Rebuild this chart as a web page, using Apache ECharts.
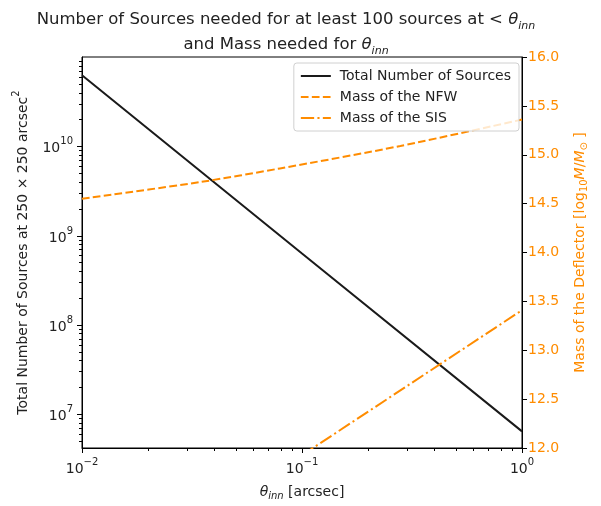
<!DOCTYPE html>
<html>
<head>
<meta charset="utf-8">
<script src="https://cdn.jsdelivr.net/npm/echarts@6/dist/echarts.min.js"></script>
<style>
  html, body { margin: 0; padding: 0; background: #fff; }
  #chart { width: 601px; height: 506px; }
</style>
</head>
<body>
<div id="chart"></div>
<script>
// Inner angle theta_inn [arcsec] and the quantities plotted against it
const thetaSources = [0.01, 0.1, 1];
const totalSources = [6.25e10, 6.3e8, 6.4e6];

const thetaNFW = [0.01, 0.0343, 0.0794, 0.28, 1];
const massNFW = [14.55, 14.72, 14.86, 15.09, 15.36];

const thetaSIS = [0.1, 1];
const massSIS = [11.926, 13.41];

// Axis ticks
const xMajorTicks = [0.01, 0.1, 1];
const xMinorTicks = [0.02, 0.03, 0.04, 0.05, 0.06, 0.07, 0.08, 0.09,
                     0.2, 0.3, 0.4, 0.5, 0.6, 0.7, 0.8, 0.9];
const yMajorTicks = [1e7, 1e8, 1e9, 1e10];
const yMinorTicks = [5e6, 6e6, 7e6, 8e6, 9e6,
                     2e7, 3e7, 4e7, 5e7, 6e7, 7e7, 8e7, 9e7,
                     2e8, 3e8, 4e8, 5e8, 6e8, 7e8, 8e8, 9e8,
                     2e9, 3e9, 4e9, 5e9, 6e9, 7e9, 8e9, 9e9,
                     2e10, 3e10, 4e10, 5e10, 6e10, 7e10, 8e10, 9e10];
const xTickExponents = [-2, -1, 0];
const yTickExponents = [7, 8, 9, 10];

const X_MIN = 0.01, X_MAX = 1;
const Y_MIN = 4.17e6, Y_MAX = 1e11;

const FONT = 'DejaVu Sans';
const TEXT = '#222';
const ORANGE = '#ff8c00';

const chart = echarts.init(document.getElementById('chart'), null, { renderer: 'canvas' });

function powerLabel(exp) {
  const e = exp < 0 ? '\u2212' + Math.abs(exp) : String(exp);
  return '{b|10}{sup|' + e + '}';
}

const powRich = {
  b: { fontFamily: FONT, fontSize: 14, color: TEXT, lineHeight: 19, verticalAlign: 'bottom' },
  sup: { fontFamily: FONT, fontSize: 10, color: TEXT, lineHeight: 12, verticalAlign: 'top' }
};

// Short tick marks drawn through the axis scales
function tickSeries(values, orientation, len) {
  const data = values.map(v => orientation === 'x' ? [v, Y_MIN] : [X_MIN, v]);
  return {
    type: 'custom',
    xAxisIndex: 0,
    yAxisIndex: 0,
    silent: true,
    clip: false,
    z: 5,
    data: data,
    renderItem: function (params, api) {
      const cs = params.coordSys;
      const p = api.coord([api.value(0), api.value(1)]);
      if (orientation === 'x') {
        const x = Math.round(p[0]) + 0.5;
        const y0 = cs.y + cs.height;
        return { type: 'line', shape: { x1: x, y1: y0, x2: x, y2: y0 + len },
                 style: { stroke: '#000', lineWidth: 1 } };
      }
      const y = Math.round(p[1]) + 0.5;
      const x0 = cs.x;
      return { type: 'line', shape: { x1: x0, y1: y, x2: x0 - len, y2: y },
               style: { stroke: '#000', lineWidth: 1 } };
    }
  };
}

const option = {
  backgroundColor: '#fff',
  animation: false,
  title: {
    text: '{t|Number of Sources needed for at least 100 sources at < }{it|θ}{sub|inn}\n{t|and Mass needed for }{it|θ}{sub|inn}',
    left: 281,
    top: 2,
    textAlign: 'center',
    textStyle: {
      fontWeight: 'normal',
      rich: {
        t: { fontFamily: FONT, fontSize: 16.5, fontWeight: 'normal', color: TEXT, lineHeight: 25, verticalAlign: 'middle' },
        it: { fontFamily: FONT, fontSize: 16.5, fontWeight: 'normal', fontStyle: 'italic', color: TEXT, lineHeight: 25, verticalAlign: 'middle' },
        sub: { fontFamily: FONT, fontSize: 11, fontWeight: 'normal', fontStyle: 'italic', color: TEXT, lineHeight: 12, verticalAlign: 'bottom' }
      }
    }
  },
  legend: {
    data: ['Total Number of Sources', 'Mass of the NFW', 'Mass of the SIS'],
    orient: 'vertical',
    right: 82,
    top: 63,
    padding: [6, 8, 6, 6],
    itemGap: 7,
    itemWidth: 30,
    itemHeight: 14,
    backgroundColor: 'rgba(255,255,255,0.8)',
    borderColor: '#d0d0d0',
    borderWidth: 1,
    borderRadius: 3,
    itemStyle: { opacity: 0 },
    textStyle: { fontFamily: FONT, fontSize: 14, color: TEXT, padding: [0, 0, 0, 4] }
  },
  grid: {
    left: 82, right: 79, top: 57, bottom: 57,
    show: true, borderColor: '#000', borderWidth: 1, backgroundColor: 'transparent'
  },
  xAxis: {
    type: 'log',
    logBase: 10,
    min: X_MIN,
    max: X_MAX,
    name: '{it|θ}{sub|inn}{n| [arcsec]}',
    nameLocation: 'middle',
    nameGap: 35,
    nameTextStyle: {
      rich: {
        n: { fontFamily: FONT, fontSize: 14, color: TEXT, lineHeight: 18, verticalAlign: 'middle' },
        it: { fontFamily: FONT, fontSize: 14, fontStyle: 'italic', color: TEXT, lineHeight: 18, verticalAlign: 'middle' },
        sub: { fontFamily: FONT, fontSize: 10, fontStyle: 'italic', color: TEXT, lineHeight: 10, verticalAlign: 'bottom' }
      }
    },
    axisLine: { show: true, lineStyle: { color: '#000', width: 1 } },
    axisTick: { show: false },
    splitLine: { show: false },
    minorTick: { show: false },
    axisLabel: {
      margin: 9,
      showMinLabel: true,
      showMaxLabel: true,
      formatter: function (v) {
        const e = Math.round(Math.log10(v));
        if (Math.abs(Math.log10(v) - e) > 1e-6 || xTickExponents.indexOf(e) < 0) return '';
        return powerLabel(e);
      },
      rich: powRich
    }
  },
  yAxis: [
    {
      type: 'log',
      logBase: 10,
      min: Y_MIN,
      max: Y_MAX,
      position: 'left',
      name: '{n|Total Number of Sources at 250 × 250 arcsec}{sup|2}',
      nameLocation: 'middle',
      nameGap: 52,
      nameTextStyle: {
        rich: {
          n: { fontFamily: FONT, fontSize: 14, color: TEXT, lineHeight: 19, verticalAlign: 'bottom' },
          sup: { fontFamily: FONT, fontSize: 10, color: TEXT, lineHeight: 12, verticalAlign: 'top' }
        }
      },
      axisLine: { show: true, lineStyle: { color: '#000', width: 1 } },
      axisTick: { show: false },
      splitLine: { show: false },
      minorTick: { show: false },
      axisLabel: {
        margin: 9,
        showMinLabel: false,
        showMaxLabel: false,
        formatter: function (v) {
          const e = Math.round(Math.log10(v));
          if (Math.abs(Math.log10(v) - e) > 1e-6 || yTickExponents.indexOf(e) < 0) return '';
          return powerLabel(e);
        },
        rich: powRich
      }
    },
    {
      type: 'value',
      min: 12,
      max: 16,
      interval: 0.5,
      position: 'right',
      name: '{n|Mass of the Deflector [log}{s|10}{i|M}{n|/}{i|M}{s|⊙}{n| ]}',
      nameLocation: 'middle',
      nameGap: 49,
      nameTextStyle: {
        rich: {
          n: { fontFamily: FONT, fontSize: 14, color: ORANGE, lineHeight: 18, verticalAlign: 'middle' },
          i: { fontFamily: FONT, fontSize: 14, fontStyle: 'italic', color: ORANGE, lineHeight: 18, verticalAlign: 'middle' },
          s: { fontFamily: FONT, fontSize: 10, color: ORANGE, lineHeight: 10, verticalAlign: 'bottom' }
        }
      },
      axisLine: { show: true, lineStyle: { color: '#000', width: 1 } },
      axisTick: { show: true, inside: false, length: 5, lineStyle: { color: '#000', width: 1 } },
      splitLine: { show: false },
      axisLabel: {
        margin: 6,
        fontFamily: FONT,
        fontSize: 14,
        color: ORANGE,
        formatter: v => v.toFixed(1)
      }
    }
  ],
  series: [
    {
      name: 'Total Number of Sources',
      type: 'line',
      yAxisIndex: 0,
      data: thetaSources.map((t, i) => [t, totalSources[i]]),
      showSymbol: false,
      symbol: 'none',
      color: '#1a1a1a',
      lineStyle: { color: '#1a1a1a', width: 2 },
      z: 3
    },
    {
      name: 'Mass of the NFW',
      type: 'line',
      yAxisIndex: 1,
      data: thetaNFW.map((t, i) => [t, massNFW[i]]),
      showSymbol: false,
      symbol: 'none',
      smooth: 0.3,
      color: ORANGE,
      lineStyle: { color: ORANGE, width: 2, type: [7.7, 3.3] },
      z: 3
    },
    {
      name: 'Mass of the SIS',
      type: 'line',
      yAxisIndex: 1,
      data: thetaSIS.map((t, i) => [t, massSIS[i]]),
      showSymbol: false,
      symbol: 'none',
      color: ORANGE,
      lineStyle: { color: ORANGE, width: 2, type: [13.3, 3.3, 2.1, 3.3] },
      z: 3
    },
    tickSeries(xMajorTicks, 'x', 5),
    tickSeries(xMinorTicks, 'x', 3),
    tickSeries(yMajorTicks, 'y', 5),
    tickSeries(yMinorTicks, 'y', 3)
  ]
};

chart.setOption(option);
</script>
</body>
</html>
